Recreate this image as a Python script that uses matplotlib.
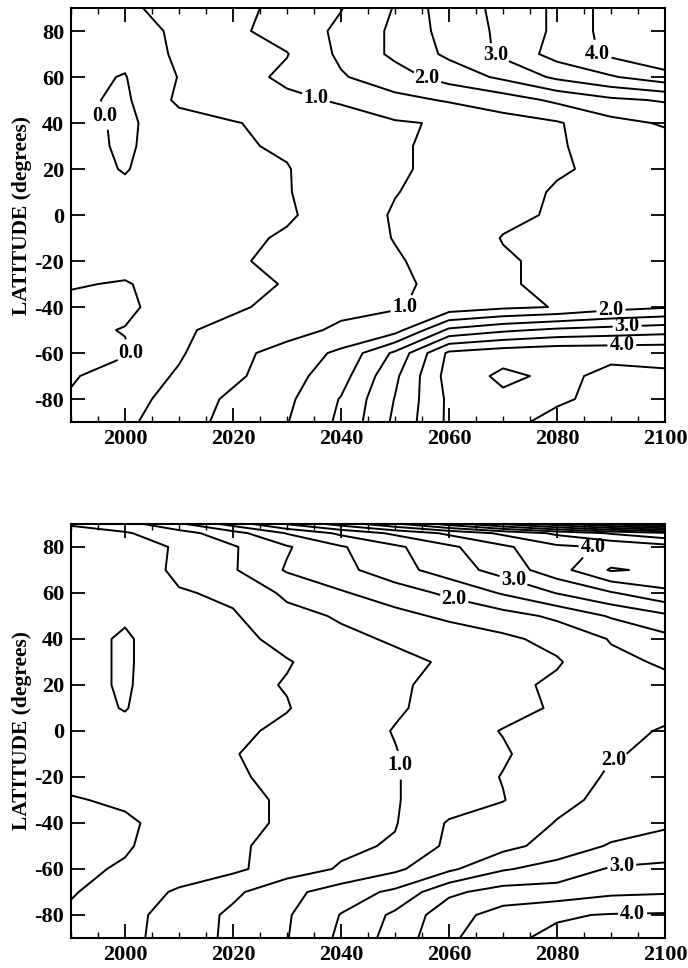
import numpy as np
import matplotlib
matplotlib.use('Agg')
import matplotlib.pyplot as plt
from matplotlib.ticker import MultipleLocator

plt.rcParams['font.family'] = ['Liberation Serif', 'DejaVu Serif']
plt.rcParams['font.weight'] = 'bold'
plt.rcParams['contour.negative_linestyle'] = 'solid'
plt.rcParams['axes.unicode_minus'] = False

# time axis shared by both panels
years = [1990, 2000, 2010, 2020, 2030, 2040, 2050, 2060, 2070, 2080, 2090, 2100]

# upper panel: temperature change (deg C), rows = latitude
lats_top = [-90, -80, -70, -60, -50, -40, -30, -20, -10, 0, 10, 20, 30, 40, 50, 60, 70, 80, 90]
z_top = [
    [0.10, 0.40, 0.80, 1.15, 1.48, 2.10, 3.10, 4.10, 4.40, 4.60, 4.55, 4.60],   # -90
    [0.05, 0.30, 0.70, 1.10, 1.40, 2.03, 3.02, 4.10, 4.40, 4.45, 4.60, 4.55],   # -80
    [-0.05, 0.25, 0.55, 0.90, 1.30, 1.80, 2.90, 4.20, 4.60, 4.40, 4.60, 4.55],  # -70
    [-0.20, -0.05, 0.45, 0.85, 1.20, 1.60, 2.60, 4.10, 4.30, 4.40, 4.40, 4.40], # -60
    [-0.10, 0.02, 0.45, 0.60, 0.80, 1.10, 1.30, 2.60, 2.90, 3.10, 3.20, 3.30],  # -50
    [-0.15, -0.10, 0.25, 0.45, 0.60, 0.85, 0.95, 1.20, 1.40, 1.52, 1.80, 1.95], # -40
    [0.05, -0.05, 0.30, 0.40, 0.52, 0.75, 0.90, 1.15, 1.45, 1.60, 1.75, 1.90],  # -30
    [0.20, 0.25, 0.30, 0.45, 0.60, 0.80, 0.95, 1.20, 1.45, 1.60, 1.70, 1.80],   # -20
    [0.20, 0.25, 0.30, 0.40, 0.55, 0.75, 1.02, 1.20, 1.52, 1.60, 1.70, 1.80],   # -10
    [0.20, 0.10, 0.30, 0.40, 0.45, 0.70, 1.05, 1.20, 1.40, 1.55, 1.70, 1.80],   # 0
    [0.20, 0.10, 0.30, 0.40, 0.48, 0.70, 0.98, 1.20, 1.30, 1.55, 1.60, 1.70],   # 10
    [0.20, -0.03, 0.30, 0.40, 0.48, 0.75, 0.95, 1.10, 1.30, 1.45, 1.60, 1.70],  # 20
    [0.20, -0.08, 0.30, 0.45, 0.55, 0.80, 0.95, 1.10, 1.20, 1.45, 1.70, 1.80],  # 30
    [0.20, -0.10, 0.30, 0.48, 0.60, 0.80, 0.95, 1.05, 1.30, 1.45, 1.85, 2.05],  # 40
    [0.10, -0.08, 0.60, 0.70, 0.90, 1.05, 1.35, 1.55, 1.75, 2.10, 2.40, 2.55],  # 50
    [0.10, -0.02, 0.52, 0.80, 1.10, 1.45, 1.80, 2.20, 2.60, 3.10, 3.45, 3.80],  # 60
    [0.20, 0.10, 0.60, 0.90, 0.98, 1.60, 2.10, 2.60, 3.10, 3.70, 4.10, 4.45],   # 70
    [0.05, 0.25, 0.60, 0.90, 1.20, 1.60, 2.10, 2.70, 3.10, 3.60, 4.20, 4.40],   # 80
    [0.20, 0.40, 0.70, 0.90, 1.10, 1.48, 2.03, 2.80, 3.10, 3.60, 4.20, 4.30],   # 90
]

# lower panel
lats_bot = [-90, -80, -70, -60, -50, -40, -30, -20, -10, 0, 10, 20, 30, 40, 50, 60, 70, 80, 86, 90]
z_bot = [
    [0.05, 0.35, 0.75, 1.10, 1.48, 2.10, 2.70, 3.40, 3.90, 4.10, 4.20, 4.20],   # -90
    [0.10, 0.35, 0.70, 1.10, 1.45, 2.02, 2.60, 3.30, 3.70, 3.95, 4.03, 4.05],   # -80
    [-0.05, 0.30, 0.55, 0.90, 1.35, 1.75, 2.10, 2.90, 3.20, 3.20, 3.40, 3.45],  # -70
    [-0.10, 0.05, 0.30, 0.40, 0.75, 1.05, 1.40, 1.90, 2.45, 2.70, 3.05, 3.10],  # -60
    [-0.10, -0.05, 0.25, 0.45, 0.60, 0.90, 1.05, 1.60, 1.85, 2.20, 2.55, 2.75], # -50
    [-0.10, -0.10, 0.25, 0.40, 0.55, 0.80, 0.97, 1.55, 1.75, 2.02, 2.25, 2.40], # -40
    [-0.05, 0.10, 0.25, 0.40, 0.55, 0.75, 0.97, 1.25, 1.48, 1.90, 2.10, 2.20],  # -30
    [0.20, 0.25, 0.30, 0.45, 0.60, 0.80, 0.97, 1.25, 1.52, 1.80, 2.05, 2.10],   # -20
    [0.20, 0.25, 0.35, 0.48, 0.65, 0.80, 0.98, 1.25, 1.45, 1.75, 1.98, 2.05],   # -10
    [0.20, 0.10, 0.30, 0.42, 0.58, 0.80, 1.02, 1.30, 1.52, 1.70, 1.90, 2.03],   # 0
    [0.15, -0.02, 0.30, 0.40, 0.48, 0.75, 0.95, 1.15, 1.35, 1.55, 1.80, 1.90],  # 10
    [0.15, -0.05, 0.30, 0.40, 0.52, 0.70, 0.95, 1.10, 1.35, 1.60, 1.80, 1.90],  # 20
    [0.15, -0.05, 0.25, 0.40, 0.48, 0.65, 0.90, 1.05, 1.25, 1.45, 1.90, 2.05],  # 30
    [0.15, -0.05, 0.25, 0.40, 0.60, 0.90, 1.05, 1.20, 1.40, 1.65, 2.03, 2.35],  # 40
    [0.10, 0.05, 0.30, 0.45, 0.85, 1.05, 1.35, 1.60, 1.80, 2.10, 2.55, 2.90],   # 50
    [0.10, 0.10, 0.45, 0.60, 1.10, 1.45, 1.75, 2.10, 2.55, 3.02, 3.45, 3.90],   # 60
    [0.10, 0.05, 0.65, 0.95, 1.55, 1.85, 2.30, 2.75, 3.20, 3.80, 4.55, 4.40],   # 70
    [0.20, 0.30, 0.55, 0.95, 1.45, 1.95, 2.40, 2.90, 3.40, 3.90, 4.05, 4.30],   # 80
    [0.30, 0.45, 0.80, 1.30, 2.03, 2.60, 3.10, 3.60, 4.10, 4.60, 5.05, 5.40],   # 86
    [0.55, 0.80, 1.40, 2.20, 3.03, 3.70, 4.40, 5.20, 6.03, 6.80, 7.60, 8.40],   # 90
]

labelled = [0.0, 1.0, 2.0, 3.0, 4.0]
plain = [-0.5, 0.5, 1.5, 2.5, 3.5, 4.5, 5.0, 5.5, 6.0, 6.5, 7.0, 7.5, 8.0, 8.5]

# contour label spots (year, latitude) for each panel
label_pos_top = [(1997.5, 44), (2001, -60), (2035.5, 52), (2052, -42),
                 (2056, 60), (2090, -42), (2068, 66), (2093, -49),
                 (2085, 66), (2092, -55)]
label_pos_bot = [(2050, -15), (2061, 58), (2090, -10), (2072, 66),
                 (2092, -59), (2092, 80), (2094, -80)]

fig = plt.figure(figsize=(6.88, 9.68), dpi=100)
ax1 = fig.add_axes([0.1032, 0.564, 0.8634, 0.4277])
ax2 = fig.add_axes([0.1032, 0.031, 0.8634, 0.4277])


def draw_panel(ax, lats, z, label_pos):
    z = np.array(z)
    ax.contour(years, lats, z, levels=plain, colors='black', linewidths=1.4)
    cs = ax.contour(years, lats, z, levels=labelled, colors='black',
                    linewidths=1.4)
    txt = ax.clabel(cs, fmt='%.1f', manual=label_pos, inline=True,
                    inline_spacing=2, fontsize=14.5)
    for t in txt:
        t.set_rotation(0)
        t.set_fontweight('bold')
    ax.set_xlim(1990, 2100)
    ax.set_ylim(-90, 90)
    ax.set_xticks([2000, 2020, 2040, 2060, 2080, 2100])
    ax.xaxis.set_minor_locator(MultipleLocator(5))
    ax.set_yticks([-80, -60, -40, -20, 0, 20, 40, 60, 80])
    ax.tick_params(which='major', direction='in', length=10, width=1.3,
                   top=True, right=True, labelsize=16, pad=5)
    ax.tick_params(which='minor', direction='in', length=4, width=1.0,
                   top=True, right=False)
    for lab in ax.get_xticklabels() + ax.get_yticklabels():
        lab.set_fontweight('bold')
    for sp in ax.spines.values():
        sp.set_linewidth(1.5)
    ax.set_ylabel('LATITUDE (degrees)', fontsize=15.5, fontweight='bold',
                  labelpad=2)


draw_panel(ax1, lats_top, z_top, label_pos_top)
draw_panel(ax2, lats_bot, z_bot, label_pos_bot)

fig.savefig('out.png', dpi=100)
